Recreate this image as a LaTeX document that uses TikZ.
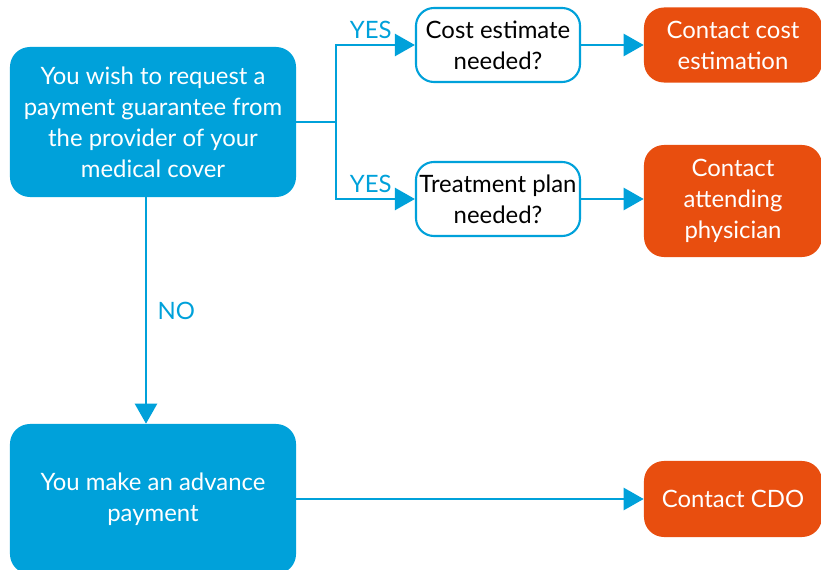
\documentclass[tikz,border=0pt]{standalone}
\usepackage{fontspec}
\setmainfont{Lato}
\usetikzlibrary{positioning}
\usetikzlibrary{arrows.meta}
\definecolor{flowblue}{RGB}{0,161,218}
\definecolor{floworange}{RGB}{232,78,15}

\tikzset{
  boxtext/.style={font=\fontsize{17}{22}\selectfont, align=center, inner sep=2pt},
  bluebox/.style={boxtext, fill=flowblue, text=white, rounded corners=0.5cm,
    minimum width=7.15cm, minimum height=3.75cm},
  askbox/.style={boxtext, draw=flowblue, line width=1.5pt, fill=white, text=black,
    rounded corners=0.45cm, minimum width=4.1cm, minimum height=1.85cm},
  contactbox/.style={boxtext, fill=floworange, text=white, rounded corners=0.5cm,
    minimum width=4.45cm},
  flow/.style={draw=flowblue, line width=1.8pt},
  flowarrow/.style={flow, -{Triangle[length=0.5cm,width=0.55cm]}},
  answer/.style={font=\fontsize{17}{22}\selectfont, text=flowblue}
}

\begin{document}
\begin{tikzpicture}[x=0.025cm, y=-0.025cm]
\clip (0,0) rectangle (821,570);

% boxes
\node[bluebox] (start) at (153,122) {You wish to request a\\payment guarantee from\\the provider of your\\medical cover};
\node[askbox] (cost) at (498,45) {Cost estimate\\needed?};
\node[askbox] (plan) at (498,199) {Treatment plan\\needed?};
\node[contactbox, minimum height=1.875cm] (costc) at (733,45) {Contact cost\\estimation};
\node[contactbox, minimum height=2.8cm] (physc) at (733,201) {Contact\\attending\\physician};
\node[bluebox] (advance) at (153,499) {You make an advance\\payment};
\node[contactbox, minimum height=1.9cm] (cdo) at (733,499) {Contact CDO};

% connectors
\coordinate (split) at (336,122);
\draw[flow] (start.east) -- (split);
\draw[flowarrow] (split) |- node[answer, pos=0.72, above] {YES} (cost.west);
\draw[flowarrow] (split) |- node[answer, pos=0.72, above] {YES} (plan.west);
\draw[flowarrow] (cost.east) -- (cost.east -| costc.west);
\draw[flowarrow] (plan.east) -- (plan.east -| physc.west);
\draw[flowarrow] (start.south -| 146,0) -- node[answer, right=4pt] {NO} (advance.north -| 146,0);
\draw[flowarrow] (advance.east) -- (advance.east -| cdo.west);
\end{tikzpicture}
\end{document}
